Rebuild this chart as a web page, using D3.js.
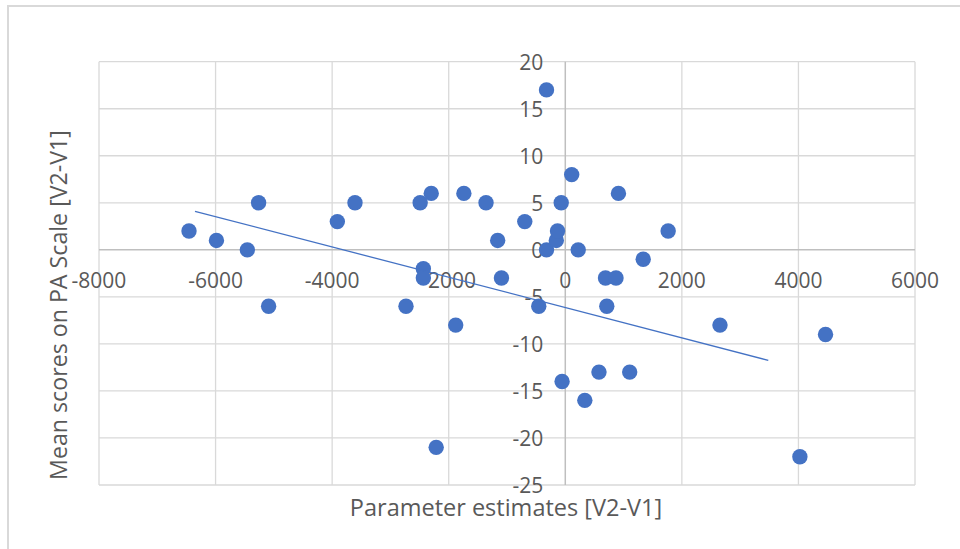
<!DOCTYPE html>
<html>
<head>
<meta charset="utf-8">
<script src="https://cdn.jsdelivr.net/npm/d3@7"></script>
<style>
  body { margin: 0; background: #fff; }
  text { font-family: "Open Sans", sans-serif; fill: #595959; }
</style>
</head>
<body>
<div id="chart"></div>
<script>
// parameter estimates [V2-V1] (x) and PA scale means (y)
var paramEstimates = [-6456, -5985, -5455, -5262, -5090, -3911, -3608, -2733, -2490, -2435,
    -2435, -2300, -2215, -1880, -1740, -1360, -1160, -1095, -695, -455,
    -322, -322, -154, -133, -70, -55, 110, 222, 335, 578,
    690, 712, 870, 912, 1105, 1337, 1765, 2654, 4025, 4465];
var paScores = [2, 1, 0, 5, -6, 3, 5, -6, 5, -2,
    -3, 6, -21, -8, 6, 5, 1, -3, 3, -6,
    17, 0, 1, 2, 5, -14, 8, 0, -16, -13,
    -3, -6, -3, 6, -13, -1, 2, -8, -22, -9];

// linear trendline end points as drawn
var trendX = [-6353, 3483];
var trendY = [4.1, -11.75];

var xTicks = [-8000, -6000, -4000, -2000, 0, 2000, 4000, 6000];
var yTicks = [-25, -20, -15, -10, -5, 0, 5, 10, 15, 20];

var WIDTH = 960, HEIGHT = 549;
var LEFT = 99, RIGHT = 915, TOP = 61.7, BOTTOM = 485;

var svg = d3.select("#chart").append("svg")
    .attr("width", WIDTH)
    .attr("height", HEIGHT);

// chart area border (only top / left edges show in the crop)
svg.append("rect")
    .attr("x", 8).attr("y", 6)
    .attr("width", WIDTH).attr("height", HEIGHT)
    .attr("fill", "none")
    .attr("stroke", "#d9d9d9")
    .attr("stroke-width", 2);

var x = d3.scaleLinear().domain([-8000, 6000]).range([LEFT, RIGHT]);
var y = d3.scaleLinear().domain([-25, 20]).range([BOTTOM, TOP]);

var grid = svg.append("g").attr("id", "grid");

grid.selectAll("line.vx")
    .data(xTicks.filter(function(d){ return d !== 0; }))
    .enter().append("line")
    .attr("class", "vx")
    .attr("x1", function(d){ return x(d); })
    .attr("x2", function(d){ return x(d); })
    .attr("y1", TOP).attr("y2", BOTTOM)
    .attr("stroke", "#d9d9d9").attr("stroke-width", 1.3);

grid.selectAll("line.hy")
    .data(yTicks.filter(function(d){ return d !== 0; }))
    .enter().append("line")
    .attr("class", "hy")
    .attr("x1", LEFT).attr("x2", RIGHT)
    .attr("y1", function(d){ return y(d); })
    .attr("y2", function(d){ return y(d); })
    .attr("stroke", "#d9d9d9").attr("stroke-width", 1.3);

// axes crossing at zero
grid.append("line")
    .attr("x1", x(0)).attr("x2", x(0))
    .attr("y1", TOP).attr("y2", BOTTOM)
    .attr("stroke", "#bfbfbf").attr("stroke-width", 1.5);
grid.append("line")
    .attr("x1", LEFT).attr("x2", RIGHT)
    .attr("y1", y(0)).attr("y2", y(0))
    .attr("stroke", "#bfbfbf").attr("stroke-width", 1.5);

// tick labels
var labels = svg.append("g").attr("id", "labels").style("font-size", "21px");

labels.selectAll("text.xl")
    .data(xTicks)
    .enter().append("text")
    .attr("class", "xl")
    .attr("x", function(d){ return x(d); })
    .attr("y", y(0) + 38)
    .attr("text-anchor", "middle")
    .text(function(d){ return d; });

labels.selectAll("text.yl")
    .data(yTicks)
    .enter().append("text")
    .attr("class", "yl")
    .attr("x", x(0) - 22)
    .attr("y", function(d){ return y(d) + 8; })
    .attr("text-anchor", "end")
    .text(function(d){ return d; });

// axis titles
svg.append("text")
    .attr("x", 506).attr("y", 516)
    .attr("text-anchor", "middle")
    .style("font-size", "23.5px")
    .text("Parameter estimates [V2-V1]");

svg.append("text")
    .attr("transform", "translate(67,305)rotate(-90)")
    .attr("text-anchor", "middle")
    .style("font-size", "23.2px")
    .text("Mean scores on PA Scale [V2-V1]");

// scatter points
var pts = paramEstimates.map(function(d, i){ return {x: d, y: paScores[i]}; });

svg.append("g").attr("id", "points")
    .selectAll("circle")
    .data(pts).enter()
    .append("circle")
    .attr("cx", function(d){ return x(d.x); })
    .attr("cy", function(d){ return y(d.y); })
    .attr("r", 7.7)
    .attr("fill", "#4472c4");

// trendline
var line = d3.line()
    .x(function(d){ return x(d[0]); })
    .y(function(d){ return y(d[1]); });

svg.append("path")
    .datum(trendX.map(function(d, i){ return [d, trendY[i]]; }))
    .attr("d", line)
    .attr("fill", "none")
    .attr("stroke", "#4472c4")
    .attr("stroke-width", 1.3);
</script>
</body>
</html>
